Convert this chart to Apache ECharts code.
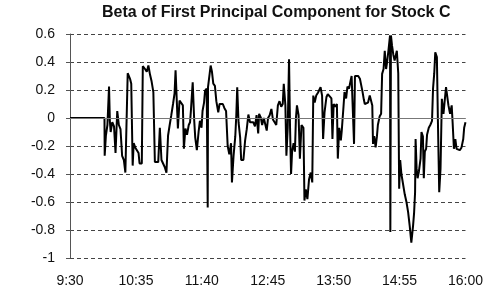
<!DOCTYPE html>
<html>
<head>
<meta charset="utf-8">
<title>Beta of First Principal Component for Stock C</title>
<script src="https://cdn.jsdelivr.net/npm/echarts@6/dist/echarts.min.js"></script>
<style>
  html, body { margin: 0; padding: 0; background: #fff; }
  #chart { width: 486px; height: 294px; }
</style>
</head>
<body>
<div id="chart"></div>
<script>
// minutes after 9:30 and beta value
const betaPoints = [
  [0, 0], [34, 0], [34.2, -0.27], [35.4, -0.125], [36.9, -0.05], [38.5, 0.225], [39.3, -0.02], [40.1, -0.1],
  [41.7, -0.03], [43.4, -0.06], [44.9, -0.25], [46.6, 0.05], [48.2, -0.05], [49.8, -0.08], [51.4, -0.27],
  [53.1, -0.3], [54.6, -0.39], [56.3, -0.39], [56.9, 0.32], [59.2, 0.28], [60.4, 0.245], [61.8, -0.34],
  [62.8, -0.18], [64.3, -0.21], [66, -0.2], [67.6, -0.25], [68.6, -0.325], [70.8, -0.325], [71.8, 0.37],
  [74, 0.35], [75.7, 0.33], [77.3, 0.375], [78.9, 0.31], [80.5, 0.26], [82.2, 0.185], [83.7, -0.315],
  [87, -0.315], [88.6, -0.07], [90.2, -0.3], [91.9, -0.31], [93.4, -0.35], [95.1, -0.39], [96.7, -0.125],
  [98.3, -0.05], [99.9, 0.02], [101.6, 0.1], [103.1, 0.175], [104.1, 0.34], [104.8, 0.34], [106.4, -0.075],
  [108, 0.125], [109.6, 0.125], [111.3, 0.09], [112.3, -0.22], [113.8, -0.075], [115.4, -0.12], [117.1, -0.05],
  [118.4, -0.03], [119.3, 0.06], [121, 0.255], [122.5, -0.02], [123.5, -0.14], [125.1, -0.23], [126.8, -0.1],
  [128.1, -0.02], [129.7, -0.07], [130.7, 0.05], [132.2, 0.11], [133.2, 0.195], [134.8, 0.21], [135.8, -0.64],
  [136.1, 0.22], [137.5, 0.23], [138.7, 0.375], [140, 0.33], [141.3, 0.245], [142.9, 0.23], [144.3, 0.12],
  [146.2, 0.04], [147.5, 0.1], [149.1, 0.09], [150.7, 0.1], [152.3, 0.07], [153.9, 0.05], [155.5, -0.2],
  [157.1, -0.26], [158.8, -0.18], [159.7, -0.46], [161.3, -0.27], [163, -0.13], [164, 0.02], [164.9, 0.22],
  [166.2, -0.03], [167.8, -0.14], [168.8, -0.3], [171, -0.3], [172.7, -0.16], [174.3, -0.08], [175.9, 0.025],
  [177.5, -0.03], [179.2, -0.04], [180.7, -0.03], [182.4, -0.06], [184, 0.02], [185.6, -0.11], [186.5, 0.03],
  [188.1, 0.005], [189.5, -0.05], [191.1, 0], [192.6, -0.01], [194, -0.09], [195.3, 0], [196.9, 0.02],
  [198.6, 0.065], [200.1, -0.01], [201.8, -0.03], [203.4, -0.05], [205, 0.09], [206.6, 0.12], [208.3, 0.08],
  [209.8, 0.1], [210.8, 0.245], [212.4, 0.09], [213.4, -0.27], [214.7, -0.07], [216, 0.42], [217, -0.07],
  [218, -0.4], [219, -0.24], [220.5, -0.18], [221.8, -0.24], [222.8, 0], [223.8, 0.09], [225.4, 0.02],
  [226.7, -0.29], [228.3, -0.05], [230.2, -0.07], [231.2, -0.59], [232.5, -0.51], [234.1, -0.58], [235.7, -0.44],
  [237.4, -0.39], [238.9, -0.46], [239.9, 0.16], [241.3, 0.11], [242.8, 0.16], [244.5, 0.18], [246.1, 0.17],
  [247.1, 0.22], [248.6, 0.16], [249.6, -0.15], [251, 0.04], [252.9, 0.15], [254.2, 0.17], [255.8, 0.16],
  [257.8, 0.14], [258.8, -0.15], [260, 0.1], [261.7, 0.08], [263.2, 0.1], [264.1, -0.29], [265.5, -0.07],
  [267.1, -0.16], [268, -0.09], [269.7, 0.08], [270.7, 0.185], [272.3, 0.14], [273.6, 0.225], [275.2, 0.21],
  [276.1, 0.245], [277.7, 0.3], [278.7, 0.29], [280.1, -0.185], [281, 0.3], [282.6, 0.29], [284.2, 0.3],
  [285.9, 0.28], [287.4, 0.27], [288.4, 0.19], [289.8, 0.13], [290.7, 0.1], [292.3, 0.11], [293.9, 0.11],
  [295.6, 0.16], [297.1, 0.15], [298.1, 0.09], [298.8, -0.185], [300, -0.13], [301.4, -0.21], [302.7, -0.13],
  [303.6, -0.05], [305.3, 0.01], [306.8, 0.03], [307.8, 0.315], [309.2, 0.35], [310.4, 0.48], [311.7, 0.35],
  [312.7, 0.4], [314, 0.48], [315.6, 0.59], [315.9, -0.815], [316.5, 0.59], [317.5, 0.52], [318.9, 0.45],
  [320.1, 0.41], [321.4, 0.4], [322.3, 0.48], [323.7, 0.32], [324.6, -0.505], [325.6, -0.3], [326.8, -0.4],
  [328.6, -0.41], [330.1, -0.545], [331.8, -0.6], [333.4, -0.67], [335, -0.77], [336.6, -0.89], [337.6, -0.89],
  [338.3, -0.77], [339.3, -0.68], [340.3, -0.53], [340.8, -0.15], [341.8, -0.36], [342.8, -0.43], [344.1, -0.38],
  [345.7, -0.29], [346.6, -0.1], [348, -0.13], [348.9, -0.43], [349.9, -0.24], [351.2, -0.22], [352.1, -0.12],
  [353.8, -0.07], [355.3, -0.05], [357, -0.02], [358, 0.21], [359.2, 0.32], [360.2, 0.47], [361.8, 0.435],
  [362.8, -0.02], [364.1, -0.53], [365.4, -0.36], [366.7, 0.137], [368.3, 0.03], [369.9, 0.03], [370.8, 0.22],
  [372.5, 0.22], [373.2, 0.09], [374.8, 0.03], [376.4, 0.09], [377.3, -0.03], [378.6, -0.22], [380, -0.15],
  [381.2, -0.22], [382.9, -0.21], [384.4, -0.23], [386.1, -0.21], [387.8, -0.15], [388.7, -0.07], [390, -0.03]
];

const startHour = 9;
const startMinute = 30;
const tickStep = 65; // minutes between time labels

const chart = echarts.init(document.getElementById("chart"));

const option = {
  animation: false,
  title: {
    text: "Beta of First Principal Component for Stock C",
    left: 97,
    top: 0,
    textStyle: {
      fontFamily: "Liberation Sans, Arial, sans-serif",
      fontSize: 16,
      fontWeight: "bold",
      color: "#111",
    },
  },
  grid: {
    left: 70,
    right: 14,
    top: 34,
    bottom: 36,
  },
  xAxis: {
    type: "value",
    min: 0,
    max: 390,
    interval: tickStep,
    axisLine: { show: false },
    axisTick: { show: false },
    splitLine: { show: false },
    axisLabel: {
      margin: 16,
      fontFamily: "Liberation Sans, Arial, sans-serif",
      fontSize: 14,
      color: "#111",
      formatter: (v) => {
        const total = startHour * 60 + startMinute + v;
        const h = Math.floor(total / 60);
        const m = total % 60;
        return h + ":" + (m < 10 ? "0" + m : m);
      },
    },
  },
  yAxis: {
    type: "value",
    min: -1,
    max: 0.6,
    interval: 0.2,
    axisLine: { show: true, lineStyle: { color: "#555", width: 1 } },
    axisTick: { show: true, length: 4, lineStyle: { color: "#555" } },
    axisLabel: {
      margin: 15,
      fontFamily: "Liberation Sans, Arial, sans-serif",
      fontSize: 14,
      color: "#111",
      formatter: (v) => String(Math.round(v * 10) / 10),
    },
    splitLine: {
      lineStyle: { color: "#444", type: [4, 3], width: 1 },
    },
  },
  series: [
    {
      name: "Beta",
      type: "line",
      data: betaPoints,
      symbol: "none",
      lineStyle: { color: "#000", width: 2 },
      markLine: {
        silent: true,
        symbol: "none",
        label: { show: false },
        lineStyle: { color: "#777", type: "solid", width: 1 },
        data: [{ yAxis: 0 }],
      },
    },
  ],
};

chart.setOption(option);
</script>
</body>
</html>
